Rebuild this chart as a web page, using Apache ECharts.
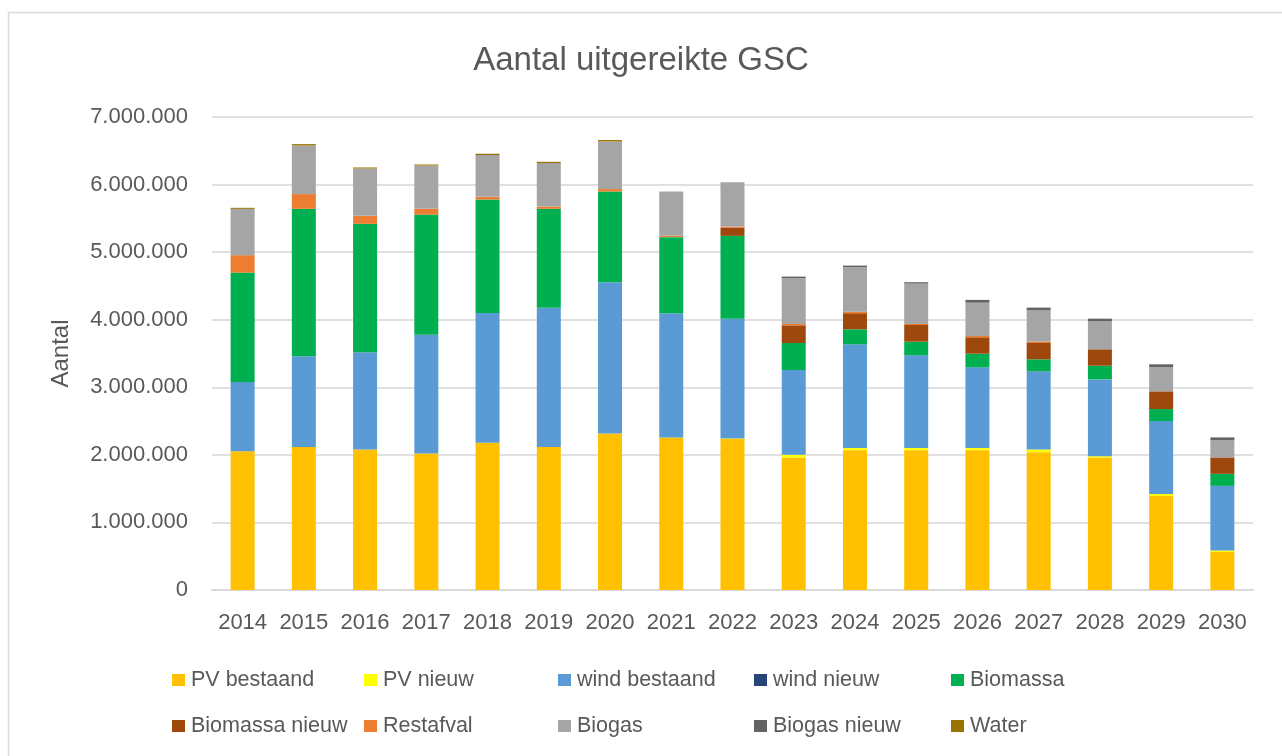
<!DOCTYPE html>
<html>
<head>
<meta charset="utf-8">
<script src="https://cdn.jsdelivr.net/npm/echarts@6/dist/echarts.min.js"></script>
<style>
html,body{margin:0;padding:0;background:#fff;}
#chart{width:1282px;height:756px;}
</style>
</head>
<body>
<div id="chart"></div>
<script>
const years = ['2014','2015','2016','2017','2018','2019','2020','2021','2022','2023','2024','2025','2026','2027','2028','2029','2030'];
const yTicks = [0, 1000000, 2000000, 3000000, 4000000, 5000000, 6000000, 7000000];

const pvBestaand = [2055000, 2115000, 2080000, 2021000, 2178000, 2115000, 2317000, 2258000, 2233000, 1962000, 2070000, 2070000, 2070000, 2040000, 1962000, 1393000, 563000];
const pvNieuw = [0, 0, 0, 0, 0, 0, 0, 0, 10000, 38000, 30000, 30000, 30000, 40000, 19000, 29000, 21000];
const windBestaand = [1023000, 1343000, 1438000, 1757000, 1922000, 2063000, 2238000, 1838000, 1772000, 1255000, 1536000, 1373000, 1195000, 1156000, 1136000, 1078000, 957000];
const windNieuw = [0, 0, 0, 0, 0, 0, 0, 0, 0, 0, 0, 0, 0, 0, 0, 0, 0];
const biomassa = [1619000, 2183000, 1901000, 1778000, 1679000, 1463000, 1342000, 1126000, 1226000, 400000, 222000, 202000, 202000, 178000, 202000, 178000, 178000];
const biomassaNieuw = [0, 0, 0, 0, 0, 0, 0, 0, 123000, 262000, 238000, 247000, 243000, 241000, 243000, 262000, 243000];
const restafval = [258000, 218000, 118000, 85000, 39000, 34000, 36000, 19000, 15000, 20000, 23000, 15000, 19000, 20000, 0, 0, 0];
const biogas = [686000, 720000, 701000, 641000, 619000, 643000, 705000, 656000, 657000, 677000, 658000, 597000, 493000, 465000, 415000, 360000, 256000];
const biogasNieuw = [0, 0, 0, 0, 0, 0, 0, 0, 0, 24000, 24000, 21000, 41000, 39000, 38000, 40000, 40000];
const water = [15000, 20000, 15000, 15000, 19000, 19000, 21000, 0, 0, 0, 0, 0, 0, 0, 0, 0, 0];

const seriesNames = ['PV bestaand','PV nieuw','wind bestaand','wind nieuw','Biomassa','Biomassa nieuw','Restafval','Biogas','Biogas nieuw','Water'];
const seriesData = [pvBestaand, pvNieuw, windBestaand, windNieuw, biomassa, biomassaNieuw, restafval, biogas, biogasNieuw, water];
const colors = ['#FFC000','#FFFF00','#5B9BD5','#264478','#00B050','#9E480E','#ED7D31','#A5A5A5','#636363','#997300'];

const legendCols = [172, 364, 558, 754, 951];
const legendRows = [668, 714];

const txt = '#595959';
const fmt = v => String(v).replace(/\B(?=(\d{3})+(?!\d))/g, '.');

const chart = echarts.init(document.getElementById('chart'));
chart.setOption({
  animation: false,
  backgroundColor: '#fff',
  color: colors,
  graphic: [{
    type: 'rect',
    shape: {x: 8.5, y: 12.5, width: 1300, height: 800},
    style: {fill: 'none', stroke: '#d9d9d9', lineWidth: 1.5},
    silent: true
  }],
  title: {
    text: 'Aantal uitgereikte GSC',
    left: 'center',
    top: 39,
    textStyle: {fontFamily: 'Liberation Sans', fontSize: 33, fontWeight: 'normal', color: txt}
  },
  legend: seriesNames.map((n, i) => ({
    data: [n],
    left: legendCols[i % 5],
    top: legendRows[Math.floor(i / 5)],
    padding: 0,
    icon: 'rect',
    itemWidth: 13,
    itemHeight: 12,
    selectedMode: false,
    textStyle: {fontFamily: 'Liberation Sans', fontSize: 21.5, lineHeight: 24, color: txt, padding: [0, 0, 0, 1]}
  })),
  grid: {left: 212, right: 29, top: 117, bottom: 166, containLabel: false},
  xAxis: {
    type: 'category',
    data: years,
    axisLine: {lineStyle: {color: '#d9d9d9', width: 2}},
    axisTick: {show: false},
    axisLabel: {fontFamily: 'Liberation Sans', fontSize: 22, color: txt, margin: 22, interval: 0}
  },
  yAxis: {
    type: 'value',
    min: yTicks[0],
    max: yTicks[yTicks.length - 1],
    interval: yTicks[1] - yTicks[0],
    name: 'Aantal',
    nameLocation: 'middle',
    nameRotate: 90,
    nameGap: 139,
    nameTextStyle: {fontFamily: 'Liberation Sans', fontSize: 24, color: txt},
    axisLine: {show: false},
    axisTick: {show: false},
    splitLine: {lineStyle: {color: '#e0e0e0', width: 2}},
    axisLabel: {fontFamily: 'Liberation Sans', fontSize: 22, color: txt, margin: 24, formatter: fmt}
  },
  series: seriesNames.map((n, i) => ({
    name: n,
    type: 'bar',
    stack: 'total',
    barWidth: 24,
    data: seriesData[i],
    itemStyle: {color: colors[i]}
  }))
});
</script>
</body>
</html>
